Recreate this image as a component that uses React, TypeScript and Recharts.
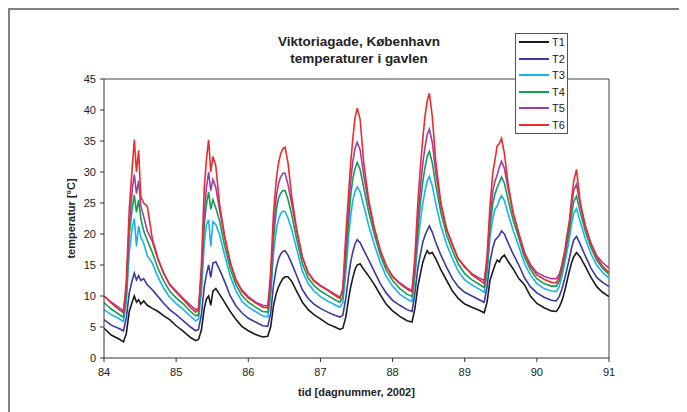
import { LineChart, Line, XAxis, YAxis, ReferenceLine, Legend } from "recharts";

// tidspunkter (dagnummer, 2002)
const tid = [
  84, 84.1, 84.2, 84.27, 84.31, 84.35, 84.39, 84.42, 84.45, 84.48, 84.51, 84.55, 84.6, 84.67, 84.75, 84.83, 84.91,
  85, 85.1, 85.2, 85.27, 85.31, 85.35, 85.39, 85.42, 85.45, 85.48, 85.51, 85.55, 85.6, 85.67, 85.75, 85.83, 85.91,
  86, 86.1, 86.2, 86.27, 86.31, 86.35, 86.39, 86.42, 86.45, 86.48, 86.51, 86.55, 86.6, 86.67, 86.75, 86.83, 86.91,
  87, 87.1, 87.2, 87.27, 87.31, 87.35, 87.39, 87.42, 87.45, 87.48, 87.51, 87.55, 87.6, 87.67, 87.75, 87.83, 87.91,
  88, 88.1, 88.2, 88.27, 88.31, 88.35, 88.39, 88.42, 88.45, 88.48, 88.51, 88.55, 88.6, 88.67, 88.75, 88.83, 88.91,
  89, 89.1, 89.2, 89.27, 89.31, 89.35, 89.39, 89.42, 89.45, 89.48, 89.51, 89.55, 89.6, 89.67, 89.75, 89.83, 89.91,
  90, 90.1, 90.2, 90.27, 90.31, 90.35, 90.39, 90.42, 90.45, 90.48, 90.51, 90.55, 90.6, 90.67, 90.75, 90.83, 90.91,
  91,
];

const t1 = [
  4.8, 3.7, 3.1, 2.6, 4.0, 7.5, 9.0, 10.0, 9.0, 9.4, 8.7, 9.2, 8.5, 8.0, 7.5, 6.8, 6.2,
  5.2, 4.3, 3.3, 2.8, 3.0, 4.5, 8.0, 9.5, 10.0, 8.5, 10.8, 11.2, 10.3, 9.0, 7.5, 6.2, 5.1,
  4.4, 3.8, 3.4, 3.5, 5.0, 8.5, 10.5, 11.5, 12.2, 12.8, 13.1, 13.1, 12.4, 10.8, 9.0, 7.8, 7.0,
  6.3, 5.5, 5.0, 4.6, 4.8, 6.5, 9.5, 11.5, 13.0, 14.3, 15.0, 15.2, 14.3, 13.2, 11.8, 10.2, 8.7,
  7.6, 6.7, 6.0, 5.8, 8.0, 11.5, 13.8, 15.5, 16.5, 17.3, 16.8, 17.0, 16.0, 14.2, 12.5, 10.8, 9.6,
  8.7, 8.2, 7.7, 7.3, 9.0, 12.5, 14.0, 15.0, 15.8, 15.5, 16.2, 16.6, 15.6, 14.4, 12.8, 11.8, 10.0,
  8.8, 8.1, 7.6, 7.5, 8.2, 9.3, 11.0, 12.5, 14.0, 15.3, 16.3, 17.0, 16.3, 14.8, 13.0, 11.5, 10.6,
  9.9,
];

const t2 = [
  6.2, 5.3, 4.8, 4.4, 6.5, 10.5, 12.5, 13.7, 12.6, 13.3, 12.5, 12.8, 11.8, 11.0, 9.9, 8.8, 7.8,
  7.0, 6.0, 5.0, 4.4, 4.6, 7.0, 11.5, 13.5, 15.0, 13.0, 15.3, 15.5, 14.3, 12.4, 10.0, 8.4, 7.3,
  6.4, 5.8, 5.2, 5.1, 7.2, 11.8, 14.6, 16.0, 16.8, 17.2, 17.3, 16.6, 15.3, 13.3, 11.0, 9.6, 8.7,
  8.0, 7.4, 6.9, 6.6, 6.9, 9.5, 13.2, 15.5, 17.2, 18.4, 19.1, 18.6, 17.4, 15.8, 13.9, 12.0, 10.5,
  9.3, 8.5, 7.8, 7.5, 10.5, 14.5, 17.0, 18.7, 19.8, 20.6, 21.3, 20.3, 18.6, 16.6, 14.6, 12.8, 11.5,
  10.6, 10.0, 9.4, 9.0, 11.5, 15.5, 17.8, 19.0, 19.4, 19.8, 20.5, 20.0, 18.6, 16.8, 15.0, 12.9, 11.5,
  10.5, 9.8, 9.3, 9.2, 9.9, 11.2, 13.0, 14.5, 16.0, 17.7, 19.0, 19.6, 18.4, 16.5, 14.5, 13.0, 12.2,
  11.5,
];

const t3 = [
  7.8, 7.0, 6.4, 5.9, 9.0, 17.0, 21.0, 22.5, 18.0, 21.3, 19.5, 18.5, 16.5, 15.3, 13.0, 11.2, 9.8,
  8.8, 7.8, 6.7, 6.0, 6.3, 10.5, 18.5, 21.5, 22.3, 18.0, 22.0, 21.5, 20.0, 16.7, 13.2, 10.8, 9.2,
  8.2, 7.5, 6.8, 6.6, 9.8, 17.0, 20.8, 22.4, 23.3, 23.7, 23.6, 22.6, 20.8, 17.6, 14.0, 12.0, 10.8,
  9.9, 9.2, 8.6, 8.2, 8.9, 13.5, 19.5, 23.0, 25.5, 26.9, 27.6, 26.8, 24.6, 21.3, 18.2, 15.4, 13.2,
  11.6, 10.3, 9.5, 9.1, 13.0, 18.5, 22.5, 25.0, 27.0, 28.5, 29.3, 27.8, 24.8, 21.3, 18.3, 16.0, 14.0,
  12.6, 11.8, 11.1, 10.6, 13.5, 19.5, 22.5, 24.0, 24.5, 25.5, 26.2, 25.4, 23.3, 20.6, 18.0, 15.2, 13.4,
  12.0, 11.2, 10.8, 10.7, 11.5, 13.3, 15.5, 17.3, 19.2, 21.5, 23.3, 24.1, 22.0, 19.3, 16.8, 15.0, 13.8,
  12.9,
];

const t4 = [
  8.9, 7.9, 7.1, 6.6, 10.5, 20.0, 24.0, 26.3, 23.5, 25.5, 22.5, 20.5, 19.0, 17.0, 14.4, 12.4, 10.8,
  9.7, 8.7, 7.5, 6.8, 7.0, 12.5, 21.5, 24.8, 26.8, 24.0, 25.5, 24.2, 22.2, 18.2, 14.4, 11.8, 10.1,
  9.0, 8.2, 7.5, 7.4, 11.0, 19.2, 24.0, 25.8, 26.6, 27.0, 27.0, 25.6, 23.2, 19.2, 15.2, 12.9, 11.7,
  10.8, 10.1, 9.4, 9.0, 9.8, 15.5, 22.0, 26.2, 29.0, 30.6, 31.5, 30.4, 27.5, 23.5, 19.8, 16.6, 14.2,
  12.5, 11.2, 10.3, 9.9, 14.0, 20.5, 25.5, 28.5, 30.8, 32.5, 33.3, 31.5, 27.8, 23.4, 19.8, 17.3, 15.2,
  13.6, 12.6, 11.9, 11.4, 14.5, 21.0, 25.0, 26.5, 27.5, 28.3, 29.2, 28.2, 25.6, 22.3, 19.3, 16.2, 14.3,
  12.8, 12.0, 11.6, 11.6, 12.4, 14.2, 16.5, 18.5, 20.5, 23.0, 25.2, 26.1, 23.6, 20.5, 17.8, 15.8, 14.5,
  13.5,
];

const t5 = [
  10.0, 9.0, 8.2, 7.6, 11.5, 21.5, 27.0, 29.6, 26.5, 28.6, 24.5, 22.8, 20.5, 18.8, 15.8, 13.6, 11.9,
  10.8, 9.6, 8.5, 7.8, 8.0, 13.5, 23.5, 27.5, 30.0, 27.0, 28.8, 27.5, 24.0, 19.6, 15.4, 12.6, 11.0,
  9.9, 9.0, 8.5, 8.4, 12.0, 20.8, 26.2, 28.2, 29.2, 29.8, 29.8, 28.0, 25.0, 20.5, 16.2, 13.8, 12.5,
  11.7, 11.0, 10.3, 9.8, 10.8, 17.3, 24.0, 28.6, 31.8, 33.8, 34.8, 33.6, 29.5, 24.8, 20.7, 17.3, 14.9,
  13.2, 12.1, 11.3, 10.9, 15.0, 22.5, 28.0, 31.5, 34.0, 36.0, 36.9, 34.8, 29.8, 24.6, 20.8, 18.3, 16.0,
  14.6, 13.6, 12.9, 12.5, 15.5, 22.5, 27.0, 28.5, 29.5, 30.8, 31.7, 30.6, 27.4, 23.4, 20.1, 17.0, 15.1,
  13.8, 13.2, 12.8, 12.8, 13.5, 15.0, 17.0, 19.3, 21.5, 24.5, 27.0, 28.0, 24.8, 21.3, 18.5, 16.5, 15.4,
  14.5,
];

const t6 = [
  10.0, 8.9, 7.9, 7.3, 12.5, 24.0, 30.5, 35.2, 30.0, 33.5, 26.0, 25.0, 24.5, 19.2, 16.0, 13.6, 11.8,
  10.6, 9.4, 8.1, 7.4, 7.8, 15.0, 27.5, 32.0, 35.2, 30.0, 32.5, 31.0, 25.0, 19.8, 15.4, 12.5, 10.8,
  9.7, 8.9, 8.2, 8.1, 14.0, 23.5, 29.0, 31.5, 33.0, 33.8, 34.0, 31.5, 26.2, 20.8, 16.3, 13.7, 12.4,
  11.6, 10.9, 10.1, 9.6, 11.2, 19.5, 26.5, 31.5, 35.5, 38.8, 40.3, 38.5, 31.5, 25.4, 20.8, 17.4, 14.9,
  13.1, 12.0, 11.1, 10.7, 16.5, 25.0, 31.5, 35.5, 39.0, 41.5, 42.7, 39.0, 31.5, 25.0, 20.7, 18.2, 16.0,
  14.8, 13.4, 12.6, 12.0, 16.5, 24.5, 30.0, 32.0, 34.2, 34.6, 35.4, 33.0, 28.2, 23.5, 20.0, 16.8, 14.8,
  13.4, 12.7, 12.2, 12.1, 13.0, 15.2, 17.5, 20.0, 22.0, 25.5, 28.5, 30.4, 25.2, 21.4, 18.4, 16.2, 14.8,
  13.8,
];

const xTicks = [84, 85, 86, 87, 88, 89, 90, 91];
const yTicks = [0, 5, 10, 15, 20, 25, 30, 35, 40, 45];

const serier = [
  { navn: "T1", data: t1, farve: "#1a1a1a" },
  { navn: "T2", data: t2, farve: "#3a3aa0" },
  { navn: "T3", data: t3, farve: "#1ab2ea" },
  { navn: "T4", data: t4, farve: "#10a050" },
  { navn: "T5", data: t5, farve: "#9a3fa8" },
  { navn: "T6", data: t6, farve: "#ee2a2a" },
];

const rows = tid.map((t, i) => {
  const r: Record<string, number> = { tid: t };
  serier.forEach((s) => {
    r[s.navn] = s.data[i];
  });
  return r;
});

const font = '"Liberation Sans", Arial, sans-serif';

function LegendBox(props: any) {
  const payload = props.payload || [];
  return (
    <div
      style={{
        width: 51,
        border: "1.5px solid #555",
        background: "#fff",
        fontFamily: font,
        fontSize: 11,
        color: "#222",
      }}
    >
      {payload.map((p: any) => (
        <div key={p.value} style={{ display: "flex", alignItems: "center", height: 16.5 }}>
          <svg width={30} height={4} style={{ marginLeft: 3, display: "block" }}>
            <line x1={0} y1={2} x2={30} y2={2} stroke={p.color} strokeWidth={2} />
          </svg>
          <span style={{ marginLeft: 3, lineHeight: "12px" }}>{p.value}</span>
        </div>
      ))}
    </div>
  );
}

export default function App() {
  return (
    <div
      style={{
        position: "relative",
        width: 677,
        height: 402,
        borderTop: "2px solid #808080",
        borderLeft: "2px solid #808080",
        background: "#fff",
        fontFamily: font,
      }}
    >
      {/* titel */}
      <div
        style={{
          position: "absolute",
          left: 234,
          top: 23,
          width: 230,
          textAlign: "center",
          fontSize: 13.5,
          fontWeight: "bold",
          lineHeight: "17px",
          color: "#222",
          zIndex: 2,
        }}
      >
        Viktoriagade, København
        <br />
        temperaturer i gavlen
      </div>

      <LineChart
        width={677}
        height={400}
        data={rows}
        margin={{ top: 69, right: 78, left: 54, bottom: 22 }}
      >
        <XAxis
          dataKey="tid"
          type="number"
          domain={[84, 91]}
          ticks={xTicks}
          allowDataOverflow
          tick={{ fill: "#222", fontSize: 11, fontFamily: font }}
          tickSize={4}
          tickMargin={6}
          stroke="#333"
          height={30}
          label={{
            value: "tid [dagnummer, 2002]",
            position: "bottom",
            offset: 0,
            style: { fill: "#222", fontSize: 11, fontWeight: "bold", fontFamily: font },
          }}
        />
        <YAxis
          type="number"
          domain={[0, 45]}
          ticks={yTicks}
          allowDataOverflow
          tick={{ fill: "#222", fontSize: 11, fontFamily: font }}
          tickSize={4}
          tickMargin={4}
          stroke="#333"
          width={40}
          label={{
            value: "temperatur [°C]",
            angle: -90,
            position: "insideLeft",
            offset: 7,
            style: { textAnchor: "middle", fill: "#222", fontSize: 11, fontWeight: "bold", fontFamily: font },
          }}
        />
        <ReferenceLine y={45} stroke="#444" strokeWidth={1} />
        <ReferenceLine x={91} stroke="#444" strokeWidth={1} />
        {serier.map((s) => (
          <Line
            key={s.navn}
            dataKey={s.navn}
            name={s.navn}
            type="linear"
            stroke={s.farve}
            strokeWidth={1.6}
            dot={false}
            isAnimationActive={false}
          />
        ))}
        <Legend
          content={<LegendBox />}
          layout="vertical"
          align="center"
          verticalAlign="middle"
          wrapperStyle={{ top: 23, left: 505, width: 54 }}
        />
      </LineChart>
    </div>
  );
}
